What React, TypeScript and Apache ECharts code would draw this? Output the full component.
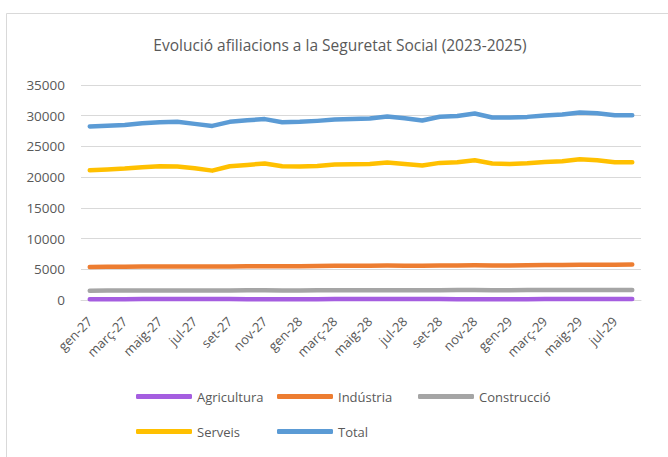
import React, { useEffect, useRef } from "react";
import * as echarts from "echarts";

const months = ["gen", "febr", "març", "abr", "maig", "juny", "jul", "ag", "set", "oct", "nov", "des"];
const categories: string[] = [];
for (const yr of ["27", "28", "29"]) {
  for (const m of months) categories.push(`${m}-${yr}`);
}
const cats = categories.slice(0, 32);

const agricultura = [130, 130, 140, 150, 160, 170, 180, 170, 150, 140, 130, 130, 130, 140, 150, 160, 170, 170, 170, 160, 150, 140, 130, 130, 130, 140, 150, 160, 170, 170, 160, 150];
const industria = [5380, 5400, 5420, 5450, 5440, 5460, 5450, 5440, 5470, 5480, 5490, 5500, 5510, 5530, 5560, 5580, 5590, 5600, 5590, 5580, 5610, 5630, 5650, 5620, 5630, 5650, 5680, 5700, 5720, 5740, 5750, 5760];
const construccio = [1520, 1530, 1540, 1550, 1550, 1560, 1550, 1540, 1560, 1570, 1570, 1560, 1560, 1570, 1580, 1590, 1590, 1600, 1590, 1580, 1600, 1610, 1620, 1600, 1600, 1610, 1620, 1630, 1640, 1640, 1630, 1630];
const serveis = [21130, 21230, 21390, 21620, 21780, 21720, 21450, 21060, 21780, 21990, 22230, 21780, 21720, 21830, 22040, 22100, 22150, 22370, 22150, 21880, 22320, 22430, 22750, 22210, 22150, 22260, 22480, 22590, 22910, 22750, 22430, 22430];
const total = [28240, 28350, 28500, 28780, 28950, 29000, 28670, 28340, 29000, 29270, 29450, 28950, 29000, 29160, 29370, 29480, 29540, 29860, 29590, 29210, 29830, 29970, 30350, 29700, 29700, 29810, 30030, 30190, 30510, 30410, 30080, 30080];

const seriesNames = ["Agricultura", "Indústria", "Construcció", "Serveis", "Total"];
const seriesData = [agricultura, industria, construccio, serveis, total];
const colors = ["#a55ee0", "#ed7d31", "#a5a5a5", "#ffc000", "#5b9bd5"];
const legendPos = [
  { left: 136, top: 390 },
  { left: 277, top: 390 },
  { left: 418, top: 390 },
  { left: 136, top: 425 },
  { left: 277, top: 425 },
];

const FONT = "Open Sans";
const TXT = "#595959";

export default function App() {
  const ref = useRef<HTMLDivElement>(null);
  useEffect(() => {
    if (!ref.current) return;
    const chart = echarts.init(ref.current, undefined, { renderer: "svg" });
    chart.setOption({
      animation: false,
      backgroundColor: "#ffffff",
      textStyle: { fontFamily: FONT },
      graphic: [
        {
          type: "rect",
          shape: { x: 6.5, y: 13.5, width: 700, height: 500 },
          style: { fill: "none", stroke: "#d9d9d9", lineWidth: 1 },
          silent: true,
        },
        {
          type: "text",
          x: 340,
          y: 45,
          style: {
            text: "Evolució afiliacions a la Seguretat Social (2023-2025)",
            fill: TXT,
            font: `15.5px "${FONT}"`,
            textAlign: "center",
            textVerticalAlign: "middle",
          },
        },
      ],
      grid: { left: 81, right: 27, top: 85, bottom: 157, containLabel: false },
      legend: seriesNames.map((n, i) => ({
        data: [n],
        left: legendPos[i].left,
        top: legendPos[i].top,
        icon: "roundRect",
        itemWidth: 56,
        itemHeight: 5,
        itemGap: 0,
        padding: 0,
        textStyle: { color: TXT, fontSize: 13, fontFamily: FONT },
      })),
      xAxis: {
        type: "category",
        data: cats,
        boundaryGap: true,
        axisLine: { show: true, lineStyle: { color: "#d9d9d9", width: 1 } },
        axisTick: { show: false },
        axisLabel: {
          interval: 1,
          rotate: 45,
          color: TXT,
          fontSize: 13,
          fontFamily: FONT,
          margin: 19,
        },
      },
      yAxis: {
        type: "value",
        min: 0,
        max: 35000,
        interval: 5000,
        axisLine: { show: false },
        axisTick: { show: false },
        splitLine: { lineStyle: { color: "#d9d9d9", width: 1 } },
        axisLabel: {
          color: TXT,
          fontSize: 13.5,
          fontFamily: FONT,
          margin: 16,
          formatter: (v: number) => String(v),
        },
      },
      series: seriesNames.map((n, i) => ({
        name: n,
        type: "line",
        data: seriesData[i],
        showSymbol: false,
        symbol: "none",
        color: colors[i],
        lineStyle: { width: 4.5, color: colors[i], cap: "round", join: "round" },
      })),
    });
    return () => chart.dispose();
  }, []);
  return (
    <div
      ref={ref}
      style={{ position: "fixed", left: 0, top: 0, width: 668, height: 457 }}
    />
  );
}
